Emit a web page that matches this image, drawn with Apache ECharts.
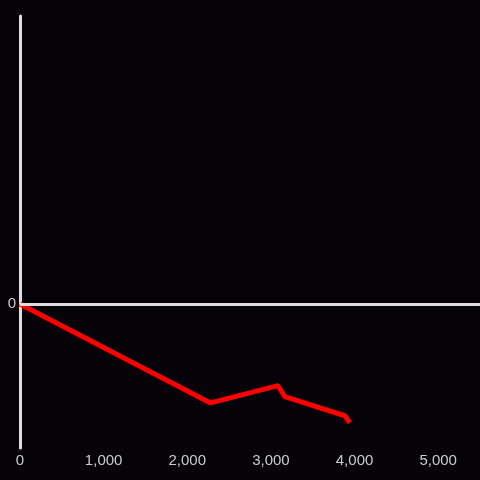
<!DOCTYPE html>
<html lang="en" style="height: 100%">
<head>
<meta charset="utf-8">
<title>Line below zero</title>
</head>
<body style="height: 100%; margin: 0; background: #050307">
<div id="container" style="height: 100%"></div>

<script type="text/javascript" src="https://cdn.jsdelivr.net/npm/echarts@6/dist/echarts.min.js"></script>

<script type="text/javascript">
var dom = document.getElementById('container');
var myChart = echarts.init(dom, null, { renderer: 'canvas' });
var option;

// line data
var xValues = [0, 2280, 3085, 3168, 3886, 3945];
var yValues = [0, -68.7, -56.7, -64.3, -77.6, -82.5];
var xTicks = [0, 1000, 2000, 3000, 4000, 5000];

var points = xValues.map(function (x, i) {
    return [x, yValues[i]];
});

option = {
    backgroundColor: '#050307',
    animation: false,
    grid: {
        left: 20,
        right: 0,
        top: 16,
        bottom: 32
    },
    xAxis: {
        type: 'value',
        min: 0,
        max: 5500,
        interval: 1000,
        axisLine: { show: false },
        axisTick: { show: false },
        splitLine: { show: false },
        axisLabel: {
            color: '#cccccc',
            fontSize: 15,
            fontFamily: 'Liberation Sans',
            margin: 5,
            customValues: xTicks,
            formatter: function (v) {
                return v.toLocaleString('en-US');
            }
        }
    },
    yAxis: {
        type: 'value',
        min: -100,
        max: 200,
        interval: 100,
        axisLine: {
            show: true,
            lineStyle: { color: '#dddddd', width: 3 }
        },
        axisTick: { show: false },
        splitLine: { show: false },
        axisLabel: {
            color: '#cccccc',
            fontSize: 15,
            fontFamily: 'Liberation Sans',
            margin: 4,
            formatter: function (v) {
                return v === 0 ? '0' : '';
            }
        }
    },
    series: [
        {
            type: 'line',
            data: points,
            showSymbol: false,
            lineStyle: { color: '#ff0000', width: 5 },
            markLine: {
                silent: true,
                symbol: ['none', 'none'],
                label: { show: false },
                lineStyle: { color: '#dddddd', width: 3, type: 'solid' },
                data: [{ yAxis: 0 }]
            },
            z: 3
        }
    ]
};

myChart.setOption(option);
window.addEventListener('resize', myChart.resize);
</script>
</body>
</html>
